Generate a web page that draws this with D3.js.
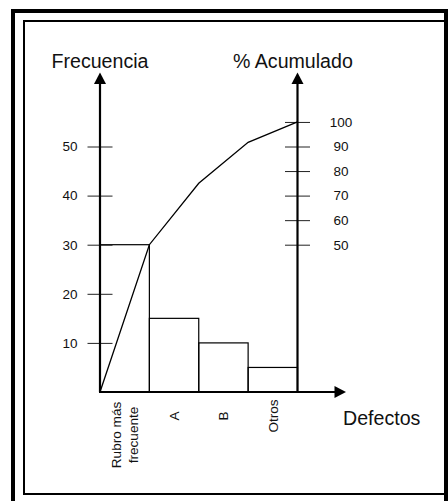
<!DOCTYPE html>
<html>
<head>
<meta charset="utf-8">
<script src="https://cdn.jsdelivr.net/npm/d3@7"></script>
<style>
  body { margin: 0; background: #fff; }
  svg { display: block; font-family: "Liberation Sans", Arial, sans-serif; }
</style>
</head>
<body>
<div id="chart"></div>
<script>
const categories = ["Rubro más frecuente", "A", "B", "Otros"];
const frequencies = [30, 15, 10, 5];
const cumulativePct = [50, 75, 91.7, 100];
const leftTicks = [10, 20, 30, 40, 50];
const rightTicks = [50, 60, 70, 80, 90, 100];

const width = 448, height = 501;
const svg = d3.select("#chart").append("svg")
    .attr("width", width)
    .attr("height", height);

// frame (cropped scan look)
svg.append("path")
    .attr("d", "M13,501 L13,11 L446,11 L446,501")
    .attr("fill", "none").attr("stroke", "#000").attr("stroke-width", 4);
svg.append("path")
    .attr("d", "M448,21 L24,21 L24,494 L448,494")
    .attr("fill", "none").attr("stroke", "#000").attr("stroke-width", 2);

const x = d3.scaleBand().domain(categories).range([100, 297.5]).padding(0);
const y = d3.scaleLinear().domain([0, 30]).range([392, 244.7]);
const yPct = d3.scaleLinear().domain([50, 100]).range([y(30), y(55)]);

// bars
svg.append("g").selectAll("rect")
    .data(frequencies)
    .join("rect")
    .attr("x", (d, i) => x(categories[i]))
    .attr("y", d => y(d))
    .attr("width", x.bandwidth())
    .attr("height", d => y(0) - y(d))
    .attr("fill", "none")
    .attr("stroke", "#000")
    .attr("stroke-width", 1.2);

// left axis ticks
const gl = svg.append("g")
    .attr("transform", "translate(100,0)")
    .call(d3.axisLeft(y).tickValues(leftTicks).tickSize(12.5));
gl.select(".domain").remove();
gl.selectAll(".tick line").attr("x1", -12.5).attr("x2", 12.5).attr("stroke", "#222");
gl.selectAll(".tick text").attr("x", -22.5).attr("font-size", 13.5)
    .attr("font-family", "Liberation Sans, Arial, sans-serif").attr("fill", "#111");

// right axis ticks
const gr = svg.append("g")
    .attr("transform", "translate(297.5,0)")
    .call(d3.axisRight(yPct).tickValues(rightTicks).tickSize(12.5));
gr.select(".domain").remove();
gr.selectAll(".tick line").attr("x1", -12.5).attr("x2", 12.5).attr("stroke", "#222");
gr.selectAll(".tick text").attr("x", 43.5).attr("text-anchor", "middle").attr("font-size", 13.5)
    .attr("font-family", "Liberation Sans, Arial, sans-serif").attr("fill", "#111");

// cumulative line
const pts = [[x.range()[0], y(0)]].concat(
    cumulativePct.map((p, i) => [x(categories[i]) + x.bandwidth(), yPct(p)]));
svg.append("path")
    .attr("d", d3.line()(pts))
    .attr("fill", "none")
    .attr("stroke", "#000")
    .attr("stroke-width", 1.3);

// axes with arrows
const axisStroke = 2.2;
svg.append("line").attr("x1", 100).attr("y1", y(0)).attr("x2", 100).attr("y2", 82)
    .attr("stroke", "#000").attr("stroke-width", axisStroke);
svg.append("line").attr("x1", 297.5).attr("y1", y(0)).attr("x2", 297.5).attr("y2", 82)
    .attr("stroke", "#000").attr("stroke-width", axisStroke);
svg.append("line").attr("x1", 99).attr("y1", y(0)).attr("x2", 337).attr("y2", y(0))
    .attr("stroke", "#000").attr("stroke-width", axisStroke);
svg.append("path").attr("d", "M100,72.5 L106,84 L94,84 Z").attr("fill", "#000");
svg.append("path").attr("d", "M297.5,72.5 L303.5,84 L291.5,84 Z").attr("fill", "#000");
svg.append("path").attr("d", `M346,${y(0)} L334.5,${y(0) - 6} L334.5,${y(0) + 6} Z`).attr("fill", "#000");

// titles
svg.append("text").attr("x", 51.5).attr("y", 68).attr("font-size", 19.6).attr("fill", "#111").text("Frecuencia");
svg.append("text").attr("x", 233).attr("y", 68).attr("font-size", 19.6).attr("fill", "#111").text("% Acumulado");
svg.append("text").attr("x", 343).attr("y", 425).attr("font-size", 19.6).attr("fill", "#111").text("Defectos");

// category labels (rotated)
const catLines = [["Rubro más", "frecuente"], ["A"], ["B"], ["Otros"]];
const catCenterY = [435, 416, 416, 416];
catLines.forEach((lines, i) => {
  const cx = x(categories[i]) + x.bandwidth() / 2;
  const t = svg.append("text")
      .attr("transform", `translate(${cx},${catCenterY[i]}) rotate(-90)`)
      .attr("text-anchor", "middle")
      .attr("font-size", 13.6)
      .attr("fill", "#111");
  lines.forEach((s, j) => {
    const off = (j - (lines.length - 1) / 2) * 16.6;
    t.append("tspan").attr("x", 0).attr("y", off).attr("dy", "0.35em").text(s);
  });
});
</script>
</body>
</html>
